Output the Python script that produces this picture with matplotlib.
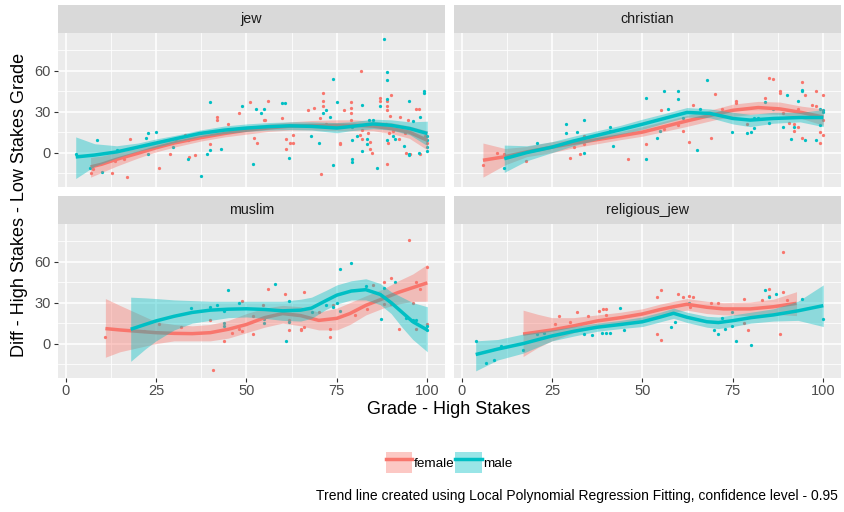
import matplotlib
matplotlib.use("Agg")
import matplotlib.pyplot as plt
from matplotlib.lines import Line2D
from matplotlib.patches import Patch

plt.rcParams['font.family'] = ['Liberation Sans', 'DejaVu Sans']

# ---------------- data ----------------
facets = ["jew", "christian", "muslim", "religious_jew"]
sexes = ["female", "male"]
sex_colors = ["#F8766D", "#00BFC4"]
x_ticks = [0, 25, 50, 75, 100]
y_ticks = [0, 30, 60]
x_label = "Grade - High Stakes"
y_label = "Diff - High Stakes - Low Stakes Grade"
caption = "Trend line created using Local Polynomial Regression Fitting, confidence level - 0.95"

# --- jew
jew_female_x = [6.9, 7.5, 12.9, 16.9, 17.8, 13.6, 16.1, 25.9, 28.9, 30.4, 32.9, 34, 35.9, 39.9, 41.9, 41.9,
                44.8, 47.9, 50.9, 52.1, 52.8, 54.9, 55.9, 55, 59.8, 60.9, 60.9, 62, 62.8, 63, 67, 68.7, 70.5,
                71.2, 71.2, 71.2, 70.3, 72, 75.9, 75.9, 77, 78.9, 78.9, 78.9, 79, 81.8, 81.4, 82, 81.9, 83.5,
                84.2, 84.2, 84.8, 86.9, 86.9, 88.9, 88.9, 88.9, 88.9, 90, 89.2, 89.7, 89.5, 90.4, 92.4, 93.8,
                94.1, 95.2, 97, 98.1, 99.5, 100, 88.7, 92.1, 94.8, 97.7]
jew_female_y = [-15, -12, -15, -18, 10, -6, -5, -11, -1, 10, 13, -3, -2, 6, 26, 24,
                21, 29, 37, 11, 7, 24, 38, 24, 25, 10, 3, 7, 13, 7, 31, 33, -16,
                44, 38, 34, 25, 21, 6, 7, 31, 37, 33, 29, 24, 60, 13, 10, 16.5, 14,
                3, 8, 0, 40, 38, 38, 34, 31, -8, 42, 7, 27, 14, 16, 26, 14,
                0, -1, 32, -1, 12, 7, 21, 10, 24, 32]
jew_male_x = [2.8, 8.8, 10, 6.7, 14.1, 22.9, 22.2, 22.9, 24.9, 29.8, 33.8, 33.9, 37.5, 39, 39.9, 39.9,
              43, 48.8, 51.7, 52.7, 53.9, 54.9, 59.8, 60.8, 61.8, 67.9, 70.1, 71.3, 72, 73.1, 74, 74,
              75.1, 76.8, 79.2, 79.2, 79.2, 79.2, 80.5, 82, 82, 83.3, 83.3, 84, 85, 86, 86.9, 88.1,
              88.9, 88.9, 88.9, 88.9, 90.5, 91, 93.6, 95, 95, 95, 96.1, 98.1, 99, 99, 100, 100, 100, 100, 97.6]
jew_male_y = [-1, 9, -14, -11, 2, 14, 11, -1, 15, 4, 9, -5, -17, -1, 2, 37,
              3, 34, -8, 32, 29, 32, 36, 36, -4, 12, 7, 29, 31, 26, 54, -9,
              37, 20, -5, -7, 9, 19, 12, 35, 1, 6, 10, 24, 24, -11, 34, 83,
              59, 53, 39, 9, 12, 10, 5, 38, -1, -2, 23, 26, 45, 44, 12, 1, 4, 9, -0.5]
jew_female_tx = [6.9, 10, 14, 20, 25, 30, 37.5, 44, 50, 56, 62, 68, 75, 80, 85, 90, 95, 100]
jew_female_fit = [-10.5, -8.5, -5, -0.5, 3.5, 7, 11, 14, 16.4, 18, 19.4, 19.8, 20, 20, 19.4, 17.6, 15, 9]
jew_female_lo = [-18, -14.5, -10, -4, 0.5, 4, 8.5, 11.5, 13.5, 15.5, 16.5, 16.5, 16, 16, 16, 14, 10.5, 2]
jew_female_hi = [-3.5, -2.5, 0, 3, 7, 10, 13.5, 16.5, 19, 21, 22.5, 23.5, 24, 24, 23, 22, 19.5, 16]
jew_male_tx = [2.8, 8, 14.1, 20, 25, 31, 37.1, 44, 50, 56, 62, 68, 75, 78.6, 85, 90, 95.2, 100]
jew_male_fit = [-3.2, -1.8, 0.5, 4, 7, 10.5, 14, 16.5, 18, 19, 19.6, 19.2, 18, 19, 21, 20, 17.6, 14]
jew_male_lo = [-19, -10, -4, 1, 4, 8, 11.5, 14, 15.5, 16.5, 16.8, 16.5, 14.5, 16, 17.5, 16.5, 13, 5]
jew_male_hi = [11.5, 6.5, 5, 7, 10, 13, 16.5, 19.5, 21, 22, 22.5, 22.5, 22, 22.5, 24.5, 24, 22.5, 23]

# --- christian
christian_female_x = [5.9, 9.8, 11.8, 17.8, 29.9, 31, 32.8, 33.9, 33.9, 46, 50.9, 55, 56.1, 59.9, 61.1, 63,
                      64.1, 69, 70.1, 72.1, 75.9, 75.9, 78.8, 84, 85.1, 86, 88, 88, 89, 91.8, 93.1, 94,
                      95, 91.8, 94, 97, 97.9, 97.9, 100, 100, 100, 99.1, 99.1, 93.1, 90.4]
christian_female_y = [-9, 0, -1, -6, -4, 4, -1, 6, 12, -5, 6, 31, 17, 20, 16, 8,
                      35, 11, 43, 32, 38, 36, 21, 40, 55, 54, 45, 44, 29, 21, 32, 52,
                      42, 16, 11, 35, 34, 45, 42, 24, 13, 15, 7, 19, 22]
christian_male_x = [11.8, 20.8, 28.9, 28.9, 31.9, 33.9, 33.9, 41.8, 40.9, 40.9, 50.9, 50.9, 53.9, 54.9, 56.1,
                    57.1, 59.9, 59.9, 61.1, 65, 65.9, 67.9, 74.9, 78.9, 80, 80.9, 80.9, 82, 84, 85.1, 86.2,
                    90, 89, 91, 92, 93, 94, 94, 95, 98, 99.1, 100, 100, 99.1]
christian_male_y = [-11, 7, 21, 14, 15, 24, 0, 5, 19, 16, -5, 40, 11, 16, 45,
                    32, 45, 39, 25, 2, 32, 53, 15, 14, 15, 25, 18, 25, 37, 22, 32,
                    42, 19, 10, 19, 38, 46, 45, 9, 9, 32, 31, 30, 20]
christian_female_tx = [5.9, 12, 18, 25, 31, 37.5, 44, 50, 56, 62, 66, 70, 75, 82, 88, 94, 100]
christian_female_fit = [-5.6, -3, 0.5, 4, 6.8, 9.5, 12.3, 15, 19, 23, 25.5, 28, 31, 33, 32, 29.4, 26]
christian_female_lo = [-18, -9, -3, 0, 3.5, 6.5, 9.5, 12, 15.5, 19, 21.5, 24, 26.5, 28.5, 28, 25, 20]
christian_female_hi = [7, 3, 4.5, 8, 10, 12.5, 15.5, 19, 23, 27, 29.5, 32, 35.5, 37.5, 37, 34, 32]
christian_male_tx = [11.8, 18, 25, 31, 37.5, 44, 50, 56, 62.3, 68.7, 75, 79.8, 86.2, 93.6, 100]
christian_male_fit = [-4.5, 0, 4, 8.5, 12.7, 16.8, 20.8, 25, 29.4, 28.7, 25, 23.8, 25, 25.7, 25.7]
christian_male_lo = [-14.5, -6, 0, 5, 9.5, 13.5, 17, 21.5, 26, 25.5, 21, 19, 21.5, 22.5, 19]
christian_male_hi = [5.5, 5, 8, 12, 16, 20, 24.5, 28.5, 33, 32, 29.5, 28, 29.5, 29.5, 31.5]

# --- muslim
muslim_female_x = [11, 21.8, 25.8, 31.9, 39.9, 40.8, 43.9, 45.9, 47.9, 48.8, 48.8, 51.9, 51.9, 55.9, 54.7,
                   60.8, 61.8, 61.8, 65, 65, 65.9, 65.9, 70, 73.1, 73.1, 74, 80, 83.2, 85, 88.1, 88.1,
                   90.1, 90.1, 92.1, 95, 96.1, 97, 97, 98, 100, 100]
muslim_female_y = [5, 9.5, 14, 12, 17, -19, 2, 8, 11, 31, 9, 7, 20, 40, 28,
                   36, 10, 17, 10, 11, 38, 12, 23, 5, 11, 28, 21, 25, 43, 45, 29,
                   48, 29, 11, 76, 30, 45, 11, 40, 56, 14]
muslim_male_x = [34.8, 39.9, 41.9, 43.9, 43.9, 43.9, 44.9, 47.9, 54.9, 54.9, 57.9, 60.9, 61.9, 61.9, 68,
                 72, 74, 75.1, 75.9, 76, 79, 83, 87.1, 88.1, 91.1, 94, 96.1, 97, 100, 100]
muslim_male_y = [26, 27, 28, 24, 15, 13, 39, 30, 18, 15, 44, 2, 31, 16, 23,
                 28, 27, 30, 55, 24, 59, 42, 18, 41, 45, 19, 17, 17, 13, 10]
muslim_female_tx = [11, 15, 20, 25, 30, 35, 40, 45, 50, 55, 60, 65, 70, 75, 78.6, 83, 87.8, 92, 96, 100]
muslim_female_fit = [11, 10, 9, 8, 7.5, 7.3, 8, 10.5, 14, 19, 22, 20.5, 17, 18.5, 22, 28, 33, 37.5, 41, 44.5]
muslim_female_lo = [-10, -6, -3, 0, 2, 2, 2, 4, 8, 12, 15, 13, 10, 10, 14, 21, 26, 29, 31, 31]
muslim_female_hi = [33, 28, 22, 16, 14, 13, 14, 17, 22, 26, 28, 27, 23, 26, 30, 35, 40, 46, 51, 58]
muslim_male_tx = [18, 22, 25, 30, 35, 40, 45, 50, 55, 60, 65, 68, 72, 75, 79, 83, 87, 90, 93, 96, 100]
muslim_male_fit = [10.5, 14, 16.6, 20, 22.8, 24.5, 25.2, 25.5, 25, 24, 24.5, 26, 31.5, 35.5, 38.5, 39.5, 36, 30, 23, 16, 10]
muslim_male_lo = [-13, -4, 2, 10, 15, 17, 19, 19.5, 18.5, 17, 16.5, 18.5, 25, 29, 32, 32, 28.5, 22, 12, 3, -6]
muslim_male_hi = [34, 33.5, 33, 32, 31.5, 31, 31, 31, 31, 31, 32.5, 34, 39, 43, 46, 47.5, 44, 38, 34, 30, 27]

# --- religious_jew
religious_jew_female_x = [25.8, 27, 29.9, 31.9, 35, 38, 39, 40, 40, 54, 55, 54, 55, 59.9, 61.2, 63,
                          64.1, 63.2, 69, 71, 78, 79.1, 83, 85, 85, 89, 89, 88.1, 89.9, 78]
religious_jew_female_y = [14.4, 20, 16, 23, 20, 24, 25, 25, 21, 34, 39, 7, 3, 36, 34, 35,
                          34, 27, 30, 30, 33, 10, 32, 40, 35, 67, 38, 7, 32, 15]
religious_jew_male_x = [3.9, 6.8, 8.9, 10.9, 16.9, 20.9, 22.9, 33.8, 36, 38.8, 40, 40.9, 43.8, 44.9, 57.9,
                        59, 63, 69.9, 71, 72, 72.9, 74.9, 74.9, 75.9, 80, 84, 85, 87, 94.1, 100]
religious_jew_male_y = [2, -14, -12, -1.5, -5, 7, 7.5, 7, 6, 8, 8, 8, 26, 10, 12,
                        16, 30, 10, 7, 19, 11, 23, 13, 2, -1, 39, 34, 36, 33, 18]
religious_jew_female_tx = [17, 21, 25, 31, 37.5, 44, 50, 55, 58.6, 62.3, 67.8, 72.4, 79.8, 86.2, 92.6]
religious_jew_female_fit = [7, 8.5, 10, 13, 16.6, 19, 21.7, 25, 27, 28.8, 26.6, 25.4, 25.4, 27, 29.5]
religious_jew_female_lo = [-9.5, -3, 2, 8, 12, 15, 17, 20.5, 23, 24.5, 22, 21, 20.5, 21.5, 20.5]
religious_jew_female_hi = [24.5, 21.5, 19, 19, 21, 23, 25.5, 29, 31, 33, 31, 30, 30.5, 32.5, 38]
religious_jew_male_tx = [3.9, 10, 17, 25, 31, 37.5, 44, 50, 55, 58.6, 62.3, 67.8, 71, 75, 80, 86.2, 93, 100]
religious_jew_male_fit = [-8, -4, 0, 5.6, 9, 12, 14, 16, 19.5, 22.2, 19.3, 16, 15.4, 16.8, 19, 21, 24, 27.8]
religious_jew_male_lo = [-20, -12, -7, 2, 5.5, 9, 11, 12.5, 16, 18.5, 15.5, 12, 11, 12.5, 15, 16.5, 17, 12.5]
religious_jew_male_hi = [2, 3, 7, 10, 12.5, 15, 17, 19.5, 23, 26, 23, 20, 19.5, 21, 23, 25.5, 31, 43]

points = {
    "jew": [(jew_female_x, jew_female_y), (jew_male_x, jew_male_y)],
    "christian": [(christian_female_x, christian_female_y), (christian_male_x, christian_male_y)],
    "muslim": [(muslim_female_x, muslim_female_y), (muslim_male_x, muslim_male_y)],
    "religious_jew": [(religious_jew_female_x, religious_jew_female_y), (religious_jew_male_x, religious_jew_male_y)],
}
trends = {
    "jew": [(jew_female_tx, jew_female_fit, jew_female_lo, jew_female_hi),
            (jew_male_tx, jew_male_fit, jew_male_lo, jew_male_hi)],
    "christian": [(christian_female_tx, christian_female_fit, christian_female_lo, christian_female_hi),
                  (christian_male_tx, christian_male_fit, christian_male_lo, christian_male_hi)],
    "muslim": [(muslim_female_tx, muslim_female_fit, muslim_female_lo, muslim_female_hi),
               (muslim_male_tx, muslim_male_fit, muslim_male_lo, muslim_male_hi)],
    "religious_jew": [(religious_jew_female_tx, religious_jew_female_fit, religious_jew_female_lo, religious_jew_female_hi),
                      (religious_jew_male_tx, religious_jew_male_fit, religious_jew_male_lo, religious_jew_male_hi)],
}

# ---------------- layout ----------------
W, H = 845, 512
fig = plt.figure(figsize=(W / 100, H / 100), dpi=100)
fig.patch.set_facecolor("white")

panel_px = [(58, 33, 445, 187), (454, 33, 841, 187), (58, 224, 445, 378), (454, 224, 841, 378)]
strip_h = 28
xlim = (-2.1, 104.9)
ylim = (-25.2, 87.6)

for i, (name, (l, t, r, b)) in enumerate(zip(facets, panel_px)):
    ax = fig.add_axes([l / W, 1 - b / H, (r - l) / W, (b - t) / H])
    ax.set_facecolor("#EBEBEB")
    for s in ax.spines.values():
        s.set_visible(False)
    ax.set_xlim(*xlim)
    ax.set_ylim(*ylim)
    ax.set_xticks(x_ticks)
    ax.set_yticks(y_ticks)
    ax.set_xticks([12.5, 37.5, 62.5, 87.5], minor=True)
    ax.set_yticks([-15, 15, 45, 75], minor=True)
    ax.grid(which="major", color="white", lw=1.1)
    ax.grid(which="minor", color="white", lw=0.55)
    ax.set_axisbelow(True)
    ax.tick_params(which="minor", length=0)
    ax.tick_params(which="major", length=2.7, width=0.8, color="#333333",
                   labelcolor="#4D4D4D", labelsize=10.5)
    ax.tick_params(axis="x", pad=1.6)
    ax.tick_params(axis="y", pad=2.8)
    if i < 2:
        ax.tick_params(axis="x", labelbottom=False, length=0)
    if i % 2 == 1:
        ax.tick_params(axis="y", labelleft=False, length=0)

    for (px, py), col in zip(points[name], sex_colors):
        ax.scatter(px, py, s=5.5, color=col, linewidths=0, zorder=2)
    for (tx, fit, lo, hi), col in zip(trends[name], sex_colors):
        ax.fill_between(tx, lo, hi, color=col, alpha=0.4, linewidth=0, zorder=3)
        ax.plot(tx, fit, color=col, lw=2.5, zorder=3, solid_capstyle="butt")

    sax = fig.add_axes([l / W, 1 - t / H, (r - l) / W, strip_h / H])
    sax.set_facecolor("#D9D9D9")
    sax.set_xticks([])
    sax.set_yticks([])
    for s in sax.spines.values():
        s.set_visible(False)
    sax.text(0.5, 0.5, name, ha="center", va="center", fontsize=10.3, color="#1A1A1A",
             transform=sax.transAxes)

fig.text(449 / W, 1 - 410 / H, x_label, ha="center", va="center", fontsize=13, color="black")
fig.text(20 / W, 1 - 205 / H, y_label, ha="center", va="center", rotation=90, fontsize=13, color="black")

handles = []
for col in sex_colors:
    handles.append((Patch(facecolor=col, alpha=0.4, edgecolor="none"),
                    Line2D([], [], color=col, lw=2.5)))
leg = fig.legend(handles, sexes, loc="center", bbox_to_anchor=(449 / W, 1 - 462.5 / H), ncol=2,
                 frameon=False, fontsize=9.7, handlelength=1.98, handleheight=2.0,
                 handletextpad=0.1, columnspacing=0.05, borderpad=0)

fig.text(838 / W, 1 - 496 / H, caption, ha="right", va="center", fontsize=10, color="black")

fig.savefig("out.png", dpi=100, facecolor="white")
